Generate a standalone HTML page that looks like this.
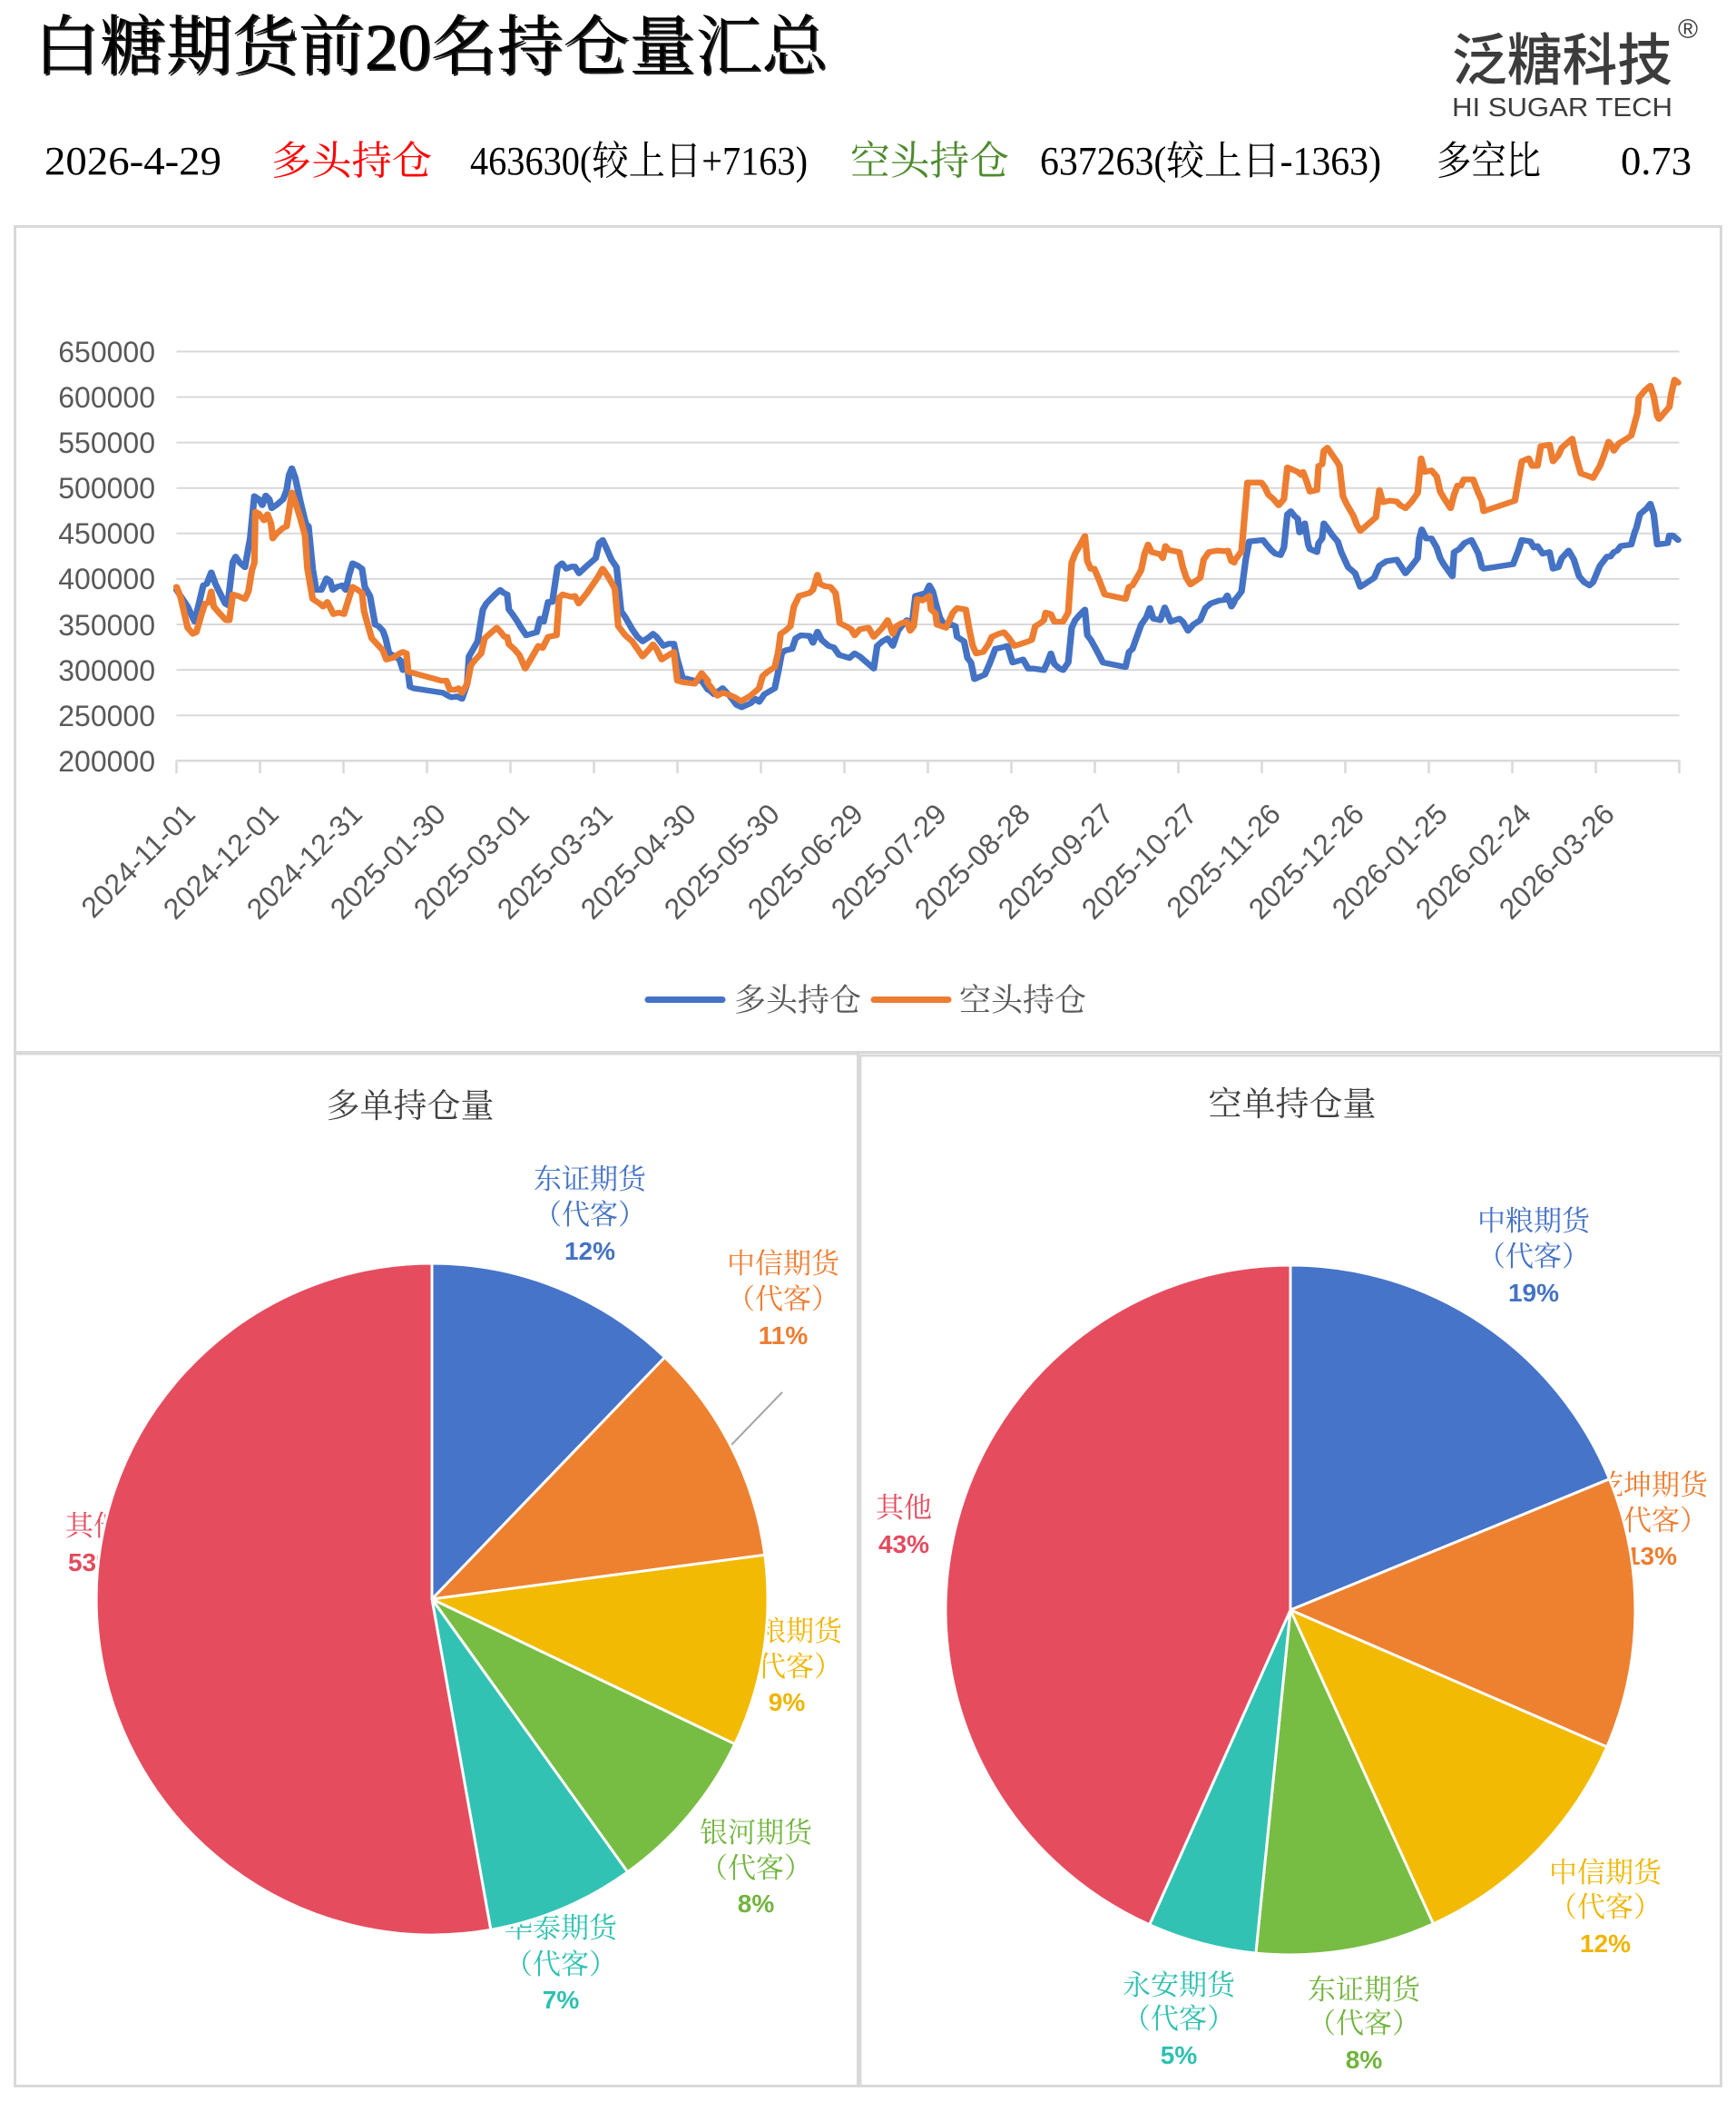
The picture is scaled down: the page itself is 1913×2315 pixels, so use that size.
<!DOCTYPE html>
<html>
<head>
<meta charset="utf-8">
<style>
html,body{margin:0;padding:0;background:#fff;}
svg{display:block;}
.serif{font-family:"Liberation Serif","Noto Serif CJK SC",serif;}
.sans{font-family:"Liberation Sans","Noto Sans CJK SC",sans-serif;}
.ax{font-family:"Liberation Sans",sans-serif;font-size:32px;fill:#595959;}
.lbl{font-family:"Liberation Serif","Noto Serif CJK SC",serif;font-size:31px;text-anchor:middle;}
.pct{font-family:"Liberation Sans","Noto Sans CJK SC",sans-serif;font-size:28px;font-weight:bold;text-anchor:middle;}
</style>
</head>
<body>
<svg width="1913" height="2315" viewBox="0 0 1913 2315" xmlns="http://www.w3.org/2000/svg">
<rect x="0" y="0" width="1913" height="2315" fill="#fff"/>

<!-- Title -->
<text class="serif" x="39" y="78" font-size="72" fill="#222" textLength="875" lengthAdjust="spacingAndGlyphs">白糖期货前20名持仓量汇总</text>
<text class="serif" x="37" y="76" font-size="72" fill="#000" textLength="875" lengthAdjust="spacingAndGlyphs">白糖期货前20名持仓量汇总</text>

<!-- Logo -->
<text x="1600" y="88" font-family="'Noto Sans CJK SC','WenQuanYi Zen Hei',sans-serif" font-size="62" font-weight="500" fill="#3c3c3c" textLength="243" lengthAdjust="spacingAndGlyphs">泛糖科技</text>
<text x="1860" y="42" font-family="'Liberation Sans',sans-serif" font-size="30" fill="#3c3c3c" text-anchor="middle">®</text>
<text x="1600" y="128" font-family="'Liberation Sans',sans-serif" font-size="29" fill="#3c3c3c" textLength="243" lengthAdjust="spacingAndGlyphs">HI SUGAR TECH</text>

<!-- Info line -->
<g class="serif" font-size="44">
<text x="49" y="192" fill="#000" textLength="195" lengthAdjust="spacingAndGlyphs">2026-4-29</text>
<text x="299" y="192" fill="#ff0000" textLength="177" lengthAdjust="spacingAndGlyphs">多头持仓</text>
<text x="518" y="192" fill="#000" textLength="372" lengthAdjust="spacingAndGlyphs">463630(较上日+7163)</text>
<text x="937" y="192" fill="#4e8a2e" textLength="175" lengthAdjust="spacingAndGlyphs">空头持仓</text>
<text x="1146" y="192" fill="#000" textLength="376" lengthAdjust="spacingAndGlyphs">637263(较上日-1363)</text>
<text x="1583" y="192" fill="#000" textLength="115" lengthAdjust="spacingAndGlyphs">多空比</text>
<text x="1786" y="192" fill="#000" textLength="78" lengthAdjust="spacingAndGlyphs">0.73</text>
</g>

<!-- Frames -->
<rect x="16.5" y="249.5" width="1880" height="910" fill="none" stroke="#d9d9d9" stroke-width="3"/>
<rect x="16.5" y="1161" width="929" height="1137.5" fill="none" stroke="#d9d9d9" stroke-width="3"/>
<rect x="948" y="1163" width="948.5" height="1135.5" fill="none" stroke="#d9d9d9" stroke-width="3"/>

<!-- Gridlines -->
<g stroke="#d9d9d9" stroke-width="2">
<line x1="194.5" y1="387.4" x2="1850.5" y2="387.4"/>
<line x1="194.5" y1="437.5" x2="1850.5" y2="437.5"/>
<line x1="194.5" y1="487.6" x2="1850.5" y2="487.6"/>
<line x1="194.5" y1="537.7" x2="1850.5" y2="537.7"/>
<line x1="194.5" y1="587.8" x2="1850.5" y2="587.8"/>
<line x1="194.5" y1="637.9" x2="1850.5" y2="637.9"/>
<line x1="194.5" y1="688.0" x2="1850.5" y2="688.0"/>
<line x1="194.5" y1="738.1" x2="1850.5" y2="738.1"/>
<line x1="194.5" y1="788.2" x2="1850.5" y2="788.2"/>
<line x1="194.5" y1="838.3" x2="1850.5" y2="838.3" stroke-width="2.5"/>
</g>
<!-- Ticks -->
<g stroke="#d9d9d9" stroke-width="2.5">
<line x1="194.5" y1="838" x2="194.5" y2="852"/>
<line x1="286.5" y1="838" x2="286.5" y2="852"/>
<line x1="378.5" y1="838" x2="378.5" y2="852"/>
<line x1="470.5" y1="838" x2="470.5" y2="852"/>
<line x1="562.5" y1="838" x2="562.5" y2="852"/>
<line x1="654.5" y1="838" x2="654.5" y2="852"/>
<line x1="746.5" y1="838" x2="746.5" y2="852"/>
<line x1="838.5" y1="838" x2="838.5" y2="852"/>
<line x1="930.5" y1="838" x2="930.5" y2="852"/>
<line x1="1022.5" y1="838" x2="1022.5" y2="852"/>
<line x1="1114.5" y1="838" x2="1114.5" y2="852"/>
<line x1="1206.5" y1="838" x2="1206.5" y2="852"/>
<line x1="1298.5" y1="838" x2="1298.5" y2="852"/>
<line x1="1390.5" y1="838" x2="1390.5" y2="852"/>
<line x1="1482.5" y1="838" x2="1482.5" y2="852"/>
<line x1="1574.5" y1="838" x2="1574.5" y2="852"/>
<line x1="1666.5" y1="838" x2="1666.5" y2="852"/>
<line x1="1758.5" y1="838" x2="1758.5" y2="852"/>
<line x1="1850.5" y1="838" x2="1850.5" y2="852"/>
</g>

<!-- Y labels -->
<g class="ax" text-anchor="end">
<text x="171" y="399">650000</text>
<text x="171" y="449">600000</text>
<text x="171" y="499">550000</text>
<text x="171" y="549">500000</text>
<text x="171" y="599">450000</text>
<text x="171" y="649">400000</text>
<text x="171" y="700">350000</text>
<text x="171" y="750">300000</text>
<text x="171" y="800">250000</text>
<text x="171" y="850">200000</text>
</g>

<!-- X labels -->
<g class="ax" text-anchor="end">
<text transform="translate(217,899) rotate(-45)">2024-11-01</text>
<text transform="translate(309,899) rotate(-45)">2024-12-01</text>
<text transform="translate(401,899) rotate(-45)">2024-12-31</text>
<text transform="translate(493,899) rotate(-45)">2025-01-30</text>
<text transform="translate(585,899) rotate(-45)">2025-03-01</text>
<text transform="translate(677,899) rotate(-45)">2025-03-31</text>
<text transform="translate(769,899) rotate(-45)">2025-04-30</text>
<text transform="translate(861,899) rotate(-45)">2025-05-30</text>
<text transform="translate(953,899) rotate(-45)">2025-06-29</text>
<text transform="translate(1045,899) rotate(-45)">2025-07-29</text>
<text transform="translate(1137,899) rotate(-45)">2025-08-28</text>
<text transform="translate(1229,899) rotate(-45)">2025-09-27</text>
<text transform="translate(1321,899) rotate(-45)">2025-10-27</text>
<text transform="translate(1413,899) rotate(-45)">2025-11-26</text>
<text transform="translate(1505,899) rotate(-45)">2025-12-26</text>
<text transform="translate(1597,899) rotate(-45)">2026-01-25</text>
<text transform="translate(1689,899) rotate(-45)">2026-02-24</text>
<text transform="translate(1781,899) rotate(-45)">2026-03-26</text>
</g>

<!-- Series: blue (多头) -->
<g fill="none" stroke="#4472c4" stroke-width="19" stroke-linejoin="round" stroke-linecap="round">
<g transform="translate(180,360) scale(0.38270,0.33333)">
<polyline points="38,870 70,925 90,975 115,855 125,850 138,812 150,850 165,885 178,915 185,920 200,778 208,760 220,780 235,795 245,730 250,700 262,560 275,570 285,590 295,558 305,570 312,600 325,590 345,570 355,540 362,490 370,468 380,500 395,580 410,650 418,660 430,800 440,870 455,870 470,832 480,840 488,870 500,860 515,855 525,870 535,820 545,782 560,790 572,800 580,860 595,890 610,985 620,990 632,1005 640,1030 650,1080 660,1085 680,1100 690,1135 700,1100 710,1190 720,1195 805,1210 820,1220 830,1225 845,1222 860,1230 875,1180 880,1090 895,1060 905,1040 920,935 930,915 955,885 970,870 980,880 990,885 995,935 1005,950 1020,975 1030,995 1045,1020 1075,1010 1085,965 1095,975 1108,910 1120,910 1135,795 1148,782 1160,800 1175,793 1185,793 1197,815 1220,790 1245,765 1255,715 1265,705 1275,730 1290,770 1305,795 1318,940 1330,960 1350,1000 1365,1025 1380,1040 1400,1025 1410,1015 1420,1025 1440,1055 1455,1048 1470,1048 1480,1100 1495,1160 1530,1170 1550,1170 1568,1200"/>
</g>
<g transform="translate(760,360) scale(0.38270,0.33333)">
<polyline points="50,1195 70,1215 95,1195 115,1220 135,1250 150,1258 175,1245 190,1230 200,1240 215,1215 245,1195 255,1140 265,1080 275,1070 295,1065 305,1030 320,1020 345,1022 355,1045 368,1008 380,1035 400,1055 415,1060 430,1085 460,1095 475,1080 490,1090 510,1110 530,1130 540,1055 555,1040 570,1030 585,1055 600,1005 610,990 625,970 640,985 650,890 665,885 680,880 690,855 700,875 710,920 720,960 735,990 755,985 765,990 770,1025 790,1040 800,1095 810,1110 820,1165 850,1150 865,1110 880,1065 900,1060 915,1055 930,1110 945,1105 960,1100 975,1130 990,1130 1020,1135 1030,1110 1040,1080 1050,1115 1065,1130 1075,1135 1090,1110 1100,995 1110,970 1125,950 1138,935 1145,1020 1155,1035 1172,1070 1190,1110 1255,1125 1265,1075 1275,1065 1300,985 1315,960 1325,930 1335,965 1355,970 1368,928 1385,975 1410,965 1420,975 1435,1005 1450,985 1470,970 1485,930 1500,915 1525,905 1540,903 1548,888 1560,925 1568,910"/>
</g>
<g transform="translate(1300,360) scale(0.38270,0.33333)">
<polyline points="157,905 165,895 178,875 190,770 200,710 240,705 250,720 265,740 275,750 290,755 300,730 310,620 320,610 330,625 340,635 345,680 355,675 360,650 370,720 375,735 395,745 400,715 410,700 415,650 425,665 440,690 455,710 465,745 475,770 485,795 505,815 520,860 540,845 560,830 575,790 595,775 625,770 650,815 665,795 685,765 690,700 697,670 710,700 725,700 740,730 750,765 760,785 785,825 790,745 805,735 820,715 840,705 860,750 870,795 875,800 960,785 975,740 985,705 1010,710 1020,730 1030,725 1045,750 1065,745 1075,800 1090,795 1100,765 1120,740 1135,770 1150,825 1165,845 1180,855 1190,845 1210,790 1230,760 1240,760 1250,745 1260,740 1270,725 1300,720 1310,680 1315,665 1325,620 1345,600 1355,585 1365,620 1375,720 1405,715 1410,690 1420,690 1435,705"/>
</g>
</g>

<!-- Series: orange (空头) -->
<g fill="none" stroke="#ed7d31" stroke-width="19" stroke-linejoin="round" stroke-linecap="round">
<g transform="translate(180,360) scale(0.38270,0.33333)">
<polyline points="38,860 50,895 60,945 70,995 85,1015 95,1010 110,950 120,915 130,912 138,875 145,925 160,945 180,970 190,970 200,885 215,890 235,900 245,875 255,805 262,780 265,612 275,618 290,640 300,620 310,650 315,700 325,685 345,665 355,660 362,610 370,548 380,580 395,635 408,690 415,800 430,900 450,915 460,925 472,910 490,950 505,945 520,950 535,895 545,860 560,870 572,880 578,940 585,970 600,1030 620,1055 632,1070 642,1100 660,1095 680,1080 690,1075 700,1080 705,1140 720,1145 800,1170 815,1170 825,1200 840,1200 850,1195 860,1210 875,1180 885,1120 895,1105 915,1080 925,1030 945,1010 960,995 972,1010 982,1025 990,1025 995,1050 1010,1065 1025,1085 1042,1130 1060,1095 1080,1055 1092,1062 1108,1025 1132,1020 1140,895 1150,885 1175,893 1185,890 1196,915 1220,880 1250,830 1265,800 1280,825 1300,865 1310,990 1330,1020 1350,1040 1365,1065 1380,1090 1400,1065 1410,1050 1420,1065 1435,1100 1455,1085 1470,1075 1480,1170 1495,1175 1530,1180 1550,1145 1568,1170"/>
</g>
<g transform="translate(760,360) scale(0.38270,0.33333)">
<polyline points="50,1175 80,1220 95,1210 110,1215 130,1225 148,1238 175,1220 190,1205 200,1195 210,1155 225,1140 245,1125 255,1075 262,1015 275,1005 290,990 300,925 315,890 330,885 345,880 355,870 368,820 375,850 390,858 405,860 420,880 428,940 432,980 450,990 465,1000 475,1020 490,1000 515,995 530,1025 555,995 570,970 585,1015 595,990 610,980 625,975 635,1005 645,990 655,900 670,905 690,890 695,935 708,948 712,985 738,995 758,945 770,930 795,935 805,1000 815,1055 825,1080 845,1075 860,1050 870,1025 890,1015 905,1010 920,1030 935,1055 950,1050 975,1040 985,1035 995,990 1010,980 1020,970 1025,945 1040,950 1050,975 1075,975 1090,945 1100,780 1110,750 1125,720 1138,692 1145,775 1155,800 1165,800 1180,840 1195,885 1255,900 1265,860 1275,855 1290,825 1300,805 1310,750 1320,720 1330,745 1355,752 1362,765 1370,725 1380,738 1410,745 1420,795 1430,830 1442,852 1470,830 1480,770 1495,745 1520,740 1540,742 1550,740 1560,775 1568,780"/>
</g>
<g transform="translate(1300,360) scale(0.38270,0.33333)">
<polyline points="157,775 178,742 185,650 195,515 235,515 245,530 255,555 270,570 285,590 300,570 310,465 330,475 340,480 350,490 355,480 365,510 375,545 395,540 400,460 410,455 415,410 425,400 440,425 455,450 460,460 470,560 480,585 500,625 510,655 520,675 545,650 565,630 575,540 585,580 605,575 625,578 635,590 650,600 668,578 685,550 695,435 705,480 725,475 740,495 750,545 760,565 780,600 790,555 800,525 810,525 818,505 845,505 860,550 870,575 875,610 965,575 975,510 985,445 1005,435 1015,460 1030,460 1040,395 1065,390 1075,445 1090,425 1100,400 1120,380 1130,370 1140,425 1150,465 1155,485 1180,495 1190,500 1210,460 1220,430 1235,380 1245,395 1250,410 1265,385 1280,375 1300,360 1305,340 1318,285 1322,235 1340,210 1355,195 1365,230 1375,295 1380,305 1395,285 1410,265 1415,225 1425,175 1435,185"/>
</g>
</g>

<!-- Legend -->
<line x1="714" y1="1101.5" x2="796" y2="1101.5" stroke="#4472c4" stroke-width="7" stroke-linecap="round"/>
<text class="serif" x="809" y="1114" font-size="35" fill="#595959" textLength="140" lengthAdjust="spacingAndGlyphs">多头持仓</text>
<line x1="963" y1="1101.5" x2="1045" y2="1101.5" stroke="#ed7d31" stroke-width="7" stroke-linecap="round"/>
<text class="serif" x="1057" y="1114" font-size="35" fill="#595959" textLength="140" lengthAdjust="spacingAndGlyphs">空头持仓</text>

<!-- Left pie title -->
<text class="serif" x="452" y="1231" font-size="37" fill="#404040" text-anchor="middle">多单持仓量</text>

<!-- Left pie labels (drawn under pie) -->
<g>
<text class="lbl" x="650" y="1310" fill="#4472c4">东证期货</text>
<text class="lbl" x="650" y="1349" fill="#4472c4">（代客）</text>
<text class="pct" x="650" y="1388" fill="#4472c4">12%</text>

<text class="lbl" x="863" y="1403" fill="#ed7d31">中信期货</text>
<text class="lbl" x="863" y="1442" fill="#ed7d31">（代客）</text>
<text class="pct" x="863" y="1481" fill="#ed7d31">11%</text>

<text class="lbl" x="866" y="1808" fill="#f0b400">中粮期货</text>
<text class="lbl" x="866" y="1847" fill="#f0b400">（代客）</text>
<text class="pct" x="867" y="1885" fill="#f0b400">9%</text>

<text class="lbl" x="833" y="2030" fill="#72b43f">银河期货</text>
<text class="lbl" x="833" y="2069" fill="#72b43f">（代客）</text>
<text class="pct" x="833" y="2107" fill="#72b43f">8%</text>

<text class="lbl" x="618" y="2135" fill="#2ec0b0">华泰期货</text>
<text class="lbl" x="618" y="2175" fill="#2ec0b0">（代客）</text>
<text class="pct" x="618" y="2213" fill="#2ec0b0">7%</text>

<text class="lbl" x="103" y="1692" fill="#e34b5e">其他</text>
<text class="pct" x="103" y="1731" fill="#e34b5e">53%</text>
</g>
<line x1="806" y1="1592" x2="862" y2="1534" stroke="#a6a6a6" stroke-width="2"/>

<!-- Left pie -->
<g stroke="#fff" stroke-width="3" stroke-linejoin="round">
<path d="M476,1762 L476,1392 A370,370 0 0 1 732.6,1495.5 Z" fill="#4674c9"/>
<path d="M476,1762 L732.6,1495.5 A370,370 0 0 1 842.8,1713.3 Z" fill="#ee8130"/>
<path d="M476,1762 L842.8,1713.3 A370,370 0 0 1 809.8,1921.7 Z" fill="#f2ba02"/>
<path d="M476,1762 L809.8,1921.7 A370,370 0 0 1 691.6,2062.7 Z" fill="#78bd43"/>
<path d="M476,1762 L691.6,2062.7 A370,370 0 0 1 540.8,2126.3 Z" fill="#32c2b3"/>
<path d="M476,1762 L540.8,2126.3 A370,370 0 1 1 476,1392 Z" fill="#e54d5f"/>
</g>

<!-- Right pie title -->
<text class="serif" x="1424" y="1229" font-size="37" fill="#404040" text-anchor="middle">空单持仓量</text>

<!-- Right pie labels -->
<g>
<text class="lbl" x="1690" y="1356" fill="#4472c4">中粮期货</text>
<text class="lbl" x="1690" y="1395" fill="#4472c4">（代客）</text>
<text class="pct" x="1690" y="1434" fill="#4472c4">19%</text>

<text class="lbl" x="1820" y="1647" fill="#ed7d31">乾坤期货</text>
<text class="lbl" x="1820" y="1686" fill="#ed7d31">（代客）</text>
<text class="pct" x="1820" y="1724" fill="#ed7d31">13%</text>

<text class="lbl" x="1769" y="2074" fill="#f0b400">中信期货</text>
<text class="lbl" x="1769" y="2112" fill="#f0b400">（代客）</text>
<text class="pct" x="1769" y="2151" fill="#f0b400">12%</text>

<text class="lbl" x="1503" y="2203" fill="#72b43f">东证期货</text>
<text class="lbl" x="1503" y="2240" fill="#72b43f">（代客）</text>
<text class="pct" x="1503" y="2279" fill="#72b43f">8%</text>

<text class="lbl" x="1299" y="2198" fill="#2ec0b0">永安期货</text>
<text class="lbl" x="1299" y="2235" fill="#2ec0b0">（代客）</text>
<text class="pct" x="1299" y="2274" fill="#2ec0b0">5%</text>

<text class="lbl" x="996" y="1672" fill="#e34b5e">其他</text>
<text class="pct" x="996" y="1711" fill="#e34b5e">43%</text>
</g>

<!-- Right pie -->
<g stroke="#fff" stroke-width="3" stroke-linejoin="round">
<path d="M1422,1774 L1422,1394 A380,380 0 0 1 1773.5,1629.7 Z" fill="#4674c9"/>
<path d="M1422,1774 L1773.5,1629.7 A380,380 0 0 1 1770.8,1924.9 Z" fill="#ee8130"/>
<path d="M1422,1774 L1770.8,1924.9 A380,380 0 0 1 1579.4,2119.8 Z" fill="#f2ba02"/>
<path d="M1422,1774 L1579.4,2119.8 A380,380 0 0 1 1383.9,2152.1 Z" fill="#78bd43"/>
<path d="M1422,1774 L1383.9,2152.1 A380,380 0 0 1 1266.7,2120.8 Z" fill="#32c2b3"/>
<path d="M1422,1774 L1266.7,2120.8 A380,380 0 0 1 1422,1394 Z" fill="#e54d5f"/>
</g>

</svg>
</body>
</html>
